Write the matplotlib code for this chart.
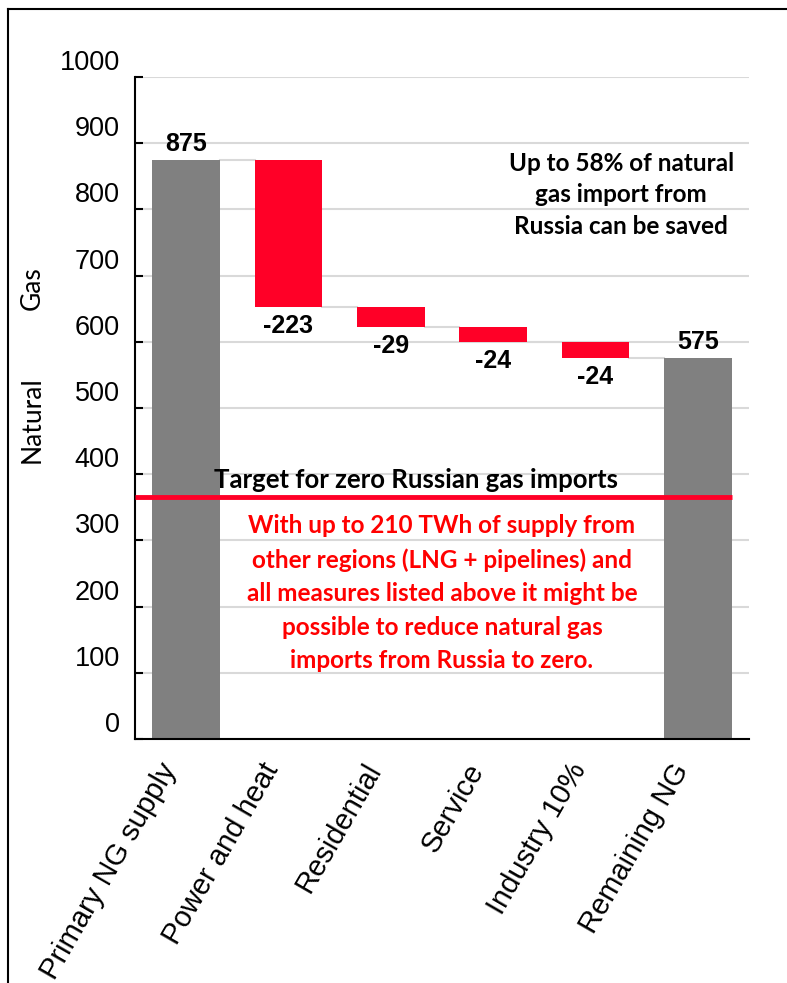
import matplotlib.pyplot as plt
import matplotlib.transforms as mtransforms
from matplotlib.lines import Line2D

# data
categories = ["Primary NG supply", "Power and heat", "Residential", "Service", "Industry 10%", "Remaining NG"]
values = [875, -223, -29, -24, -24, 575]
is_total = [True, False, False, False, False, True]
target = 365

GRAY = "#808080"
RED = "#FF0027"
GRID = "#D9D9D9"
ARIAL = "Liberation Sans"
CALIBRI = "Lato"

fig = plt.figure(figsize=(7.87, 9.83), dpi=100)
ax = fig.add_axes([135 / 787, 1 - 739 / 983, 614 / 787, 662 / 983])

# waterfall bars
width = 0.66
level = 0
tops = []
for i, (v, tot) in enumerate(zip(values, is_total)):
    if tot:
        level = v
        ax.bar(i, v, width, bottom=0, color=GRAY, zorder=2)
        ax.annotate(f"{v}", (i, v), xytext=(0, 3), textcoords="offset points",
                    ha="center", va="bottom", fontsize=18, fontweight="bold", family=ARIAL)
    else:
        bottom = level + v
        ax.bar(i, -v, width, bottom=bottom, color=RED, zorder=2)
        ax.annotate(f"{v}", (i, bottom), xytext=(0, -5), textcoords="offset points",
                    ha="center", va="top", fontsize=18, fontweight="bold", family=ARIAL)
        level = bottom
    tops.append(level)

# connector lines between bars
for i in range(len(values) - 1):
    ax.plot([i + width / 2, i + 1 - width / 2], [tops[i], tops[i]], color=GRID, lw=1.5, zorder=1)

# target line
ax.plot([-0.5, 5 + width / 2], [target, target], color=RED, lw=3.5, zorder=3, solid_capstyle="butt")

ax.set_xlim(-0.5, 5.5)
ax.set_ylim(0, 1000)
ax.set_yticks(range(0, 1001, 100))
ax.yaxis.grid(True, color=GRID, lw=1.5, zorder=0)
ax.set_axisbelow(True)
for s in ["top", "right"]:
    ax.spines[s].set_visible(False)
for s in ["left", "bottom"]:
    ax.spines[s].set_linewidth(1.5)
ax.tick_params(axis="y", direction="in", length=6, width=1.5, labelsize=19.5, pad=11)
ax.tick_params(axis="x", length=0, labelsize=21, pad=14)
ax.set_xticks(range(len(categories)))
ax.set_xticklabels(categories, rotation=60, ha="right", rotation_mode="anchor", family=ARIAL)

# Excel-like label placement: y labels sit a bit above their ticks, x labels a bit left
up = mtransforms.ScaledTranslation(0, 0.17, fig.dpi_scale_trans)
for lab in ax.get_yticklabels():
    lab.set_family(ARIAL)
    lab.set_transform(lab.get_transform() + up)
left = mtransforms.ScaledTranslation(-0.28, 0, fig.dpi_scale_trans)
for lab in ax.get_xticklabels():
    lab.set_transform(lab.get_transform() + left)

# annotations
ax.text(4.25, 822, "Up to 58% of natural\ngas import from\nRussia can be saved", ha="center", va="center",
        fontsize=17.5, fontweight="bold", family=CALIBRI, linespacing=1.45)
ax.text(2.25, target + 8, "Target for zero Russian gas imports", ha="center", va="bottom",
        fontsize=18.5, fontweight="bold", family=CALIBRI)
ax.text(2.5, 220, "With up to 210 TWh of supply from\nother regions (LNG + pipelines) and\n"
        "all measures listed above it might be\npossible to reduce natural gas\n"
        "imports from Russia to zero.", ha="center", va="center",
        fontsize=17.5, fontweight="bold", family=CALIBRI, color="#FF0000", linespacing=1.55)

# y label split into two words
fig.text(32 / 787, 1 - 420 / 983, "Natural", rotation=90, ha="center", va="center", fontsize=19, family=CALIBRI)
fig.text(32 / 787, 1 - 288 / 983, "Gas", rotation=90, ha="center", va="center", fontsize=19, family=CALIBRI)

# border
fig.add_artist(Line2D([8 / 787, 8 / 787], [0, 1 - 9 / 983], color="black", lw=1.5))
fig.add_artist(Line2D([8 / 787, 1], [1 - 9 / 983, 1 - 9 / 983], color="black", lw=1.5))

fig.savefig("out.png", dpi=100)
